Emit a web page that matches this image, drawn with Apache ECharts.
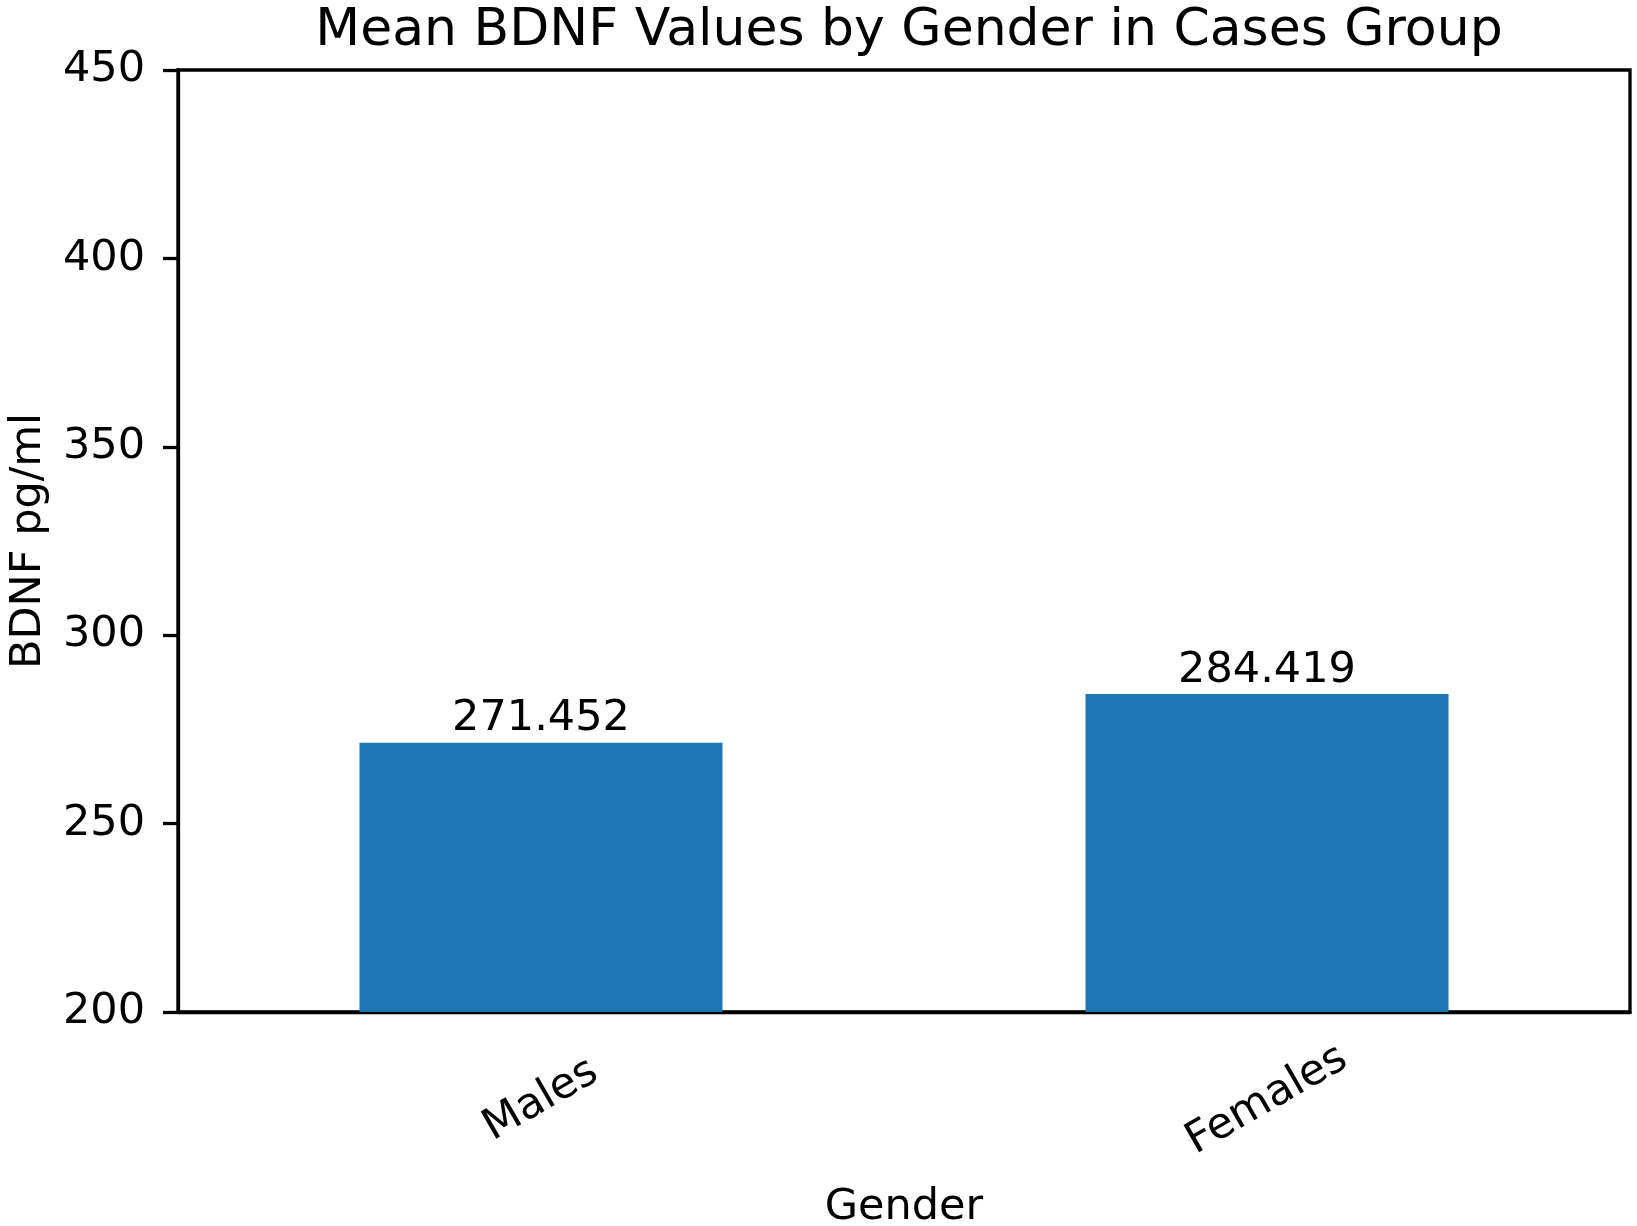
<!DOCTYPE html>
<html>
<head>
<meta charset="utf-8">
<script src="https://cdn.jsdelivr.net/npm/echarts@6/dist/echarts.min.js"></script>
<style>
html,body{margin:0;padding:0;background:#fff;}
#chart{width:1637px;height:1226px;}
</style>
</head>
<body>
<div id="chart"></div>
<script>
const titleText = 'Mean BDNF Values by Gender in Cases Group';
const categories = ['Males', 'Females'];
const meanValues = [271.452, 284.419];
const yMin = 200, yMax = 450, yStep = 50;
const xName = 'Gender';
const yName = 'BDNF pg/ml';

const FONT = 'DejaVu Sans';
const chart = echarts.init(document.getElementById('chart'), null, {renderer: 'canvas'});
chart.setOption({
  animation: false,
  backgroundColor: '#ffffff',
  title: {
    text: titleText,
    left: 904,
    textAlign: 'center',
    top: 0,
    textStyle: {fontFamily: FONT, fontSize: 52, fontWeight: 'normal', color: '#000'}
  },
  grid: {
    left: 178, right: 7, top: 70, bottom: 214,
    outerBoundsMode: 'none',
    containLabel: false,
    show: true, borderColor: '#000', borderWidth: 3.3, backgroundColor: 'transparent'
  },
  xAxis: {
    type: 'category',
    data: categories,
    name: xName,
    nameLocation: 'middle',
    nameGap: 174,
    nameTextStyle: {fontFamily: FONT, fontSize: 43, color: '#000'},
    axisLine: {lineStyle: {color: '#000', width: 3.3}},
    axisTick: {alignWithLabel: true, length: 15, lineStyle: {color: '#000', width: 3.3}},
    axisLabel: {
      rotate: 30, align: 'center', verticalAlign: 'middle', margin: 88,
      fontFamily: FONT, fontSize: 43, color: '#000'
    },
    splitLine: {show: false}
  },
  yAxis: {
    type: 'value',
    min: yMin, max: yMax, interval: yStep,
    name: yName,
    nameLocation: 'middle',
    nameRotate: 90,
    nameGap: 128,
    nameTextStyle: {fontFamily: FONT, fontSize: 43, color: '#000'},
    axisLine: {show: true, lineStyle: {color: '#000', width: 3.3}},
    axisTick: {show: true, length: 15, lineStyle: {color: '#000', width: 3.3}},
    axisLabel: {margin: 33, fontFamily: FONT, fontSize: 43, color: '#000'},
    splitLine: {show: false}
  },
  series: [{
    type: 'bar',
    data: meanValues,
    barWidth: '50%',
    itemStyle: {color: '#1f77b4'},
    label: {
      show: true, position: 'top', distance: 2,
      fontFamily: FONT, fontSize: 43, color: '#000',
      formatter: p => p.value.toFixed(3)
    }
  }]
});
</script>
</body>
</html>
